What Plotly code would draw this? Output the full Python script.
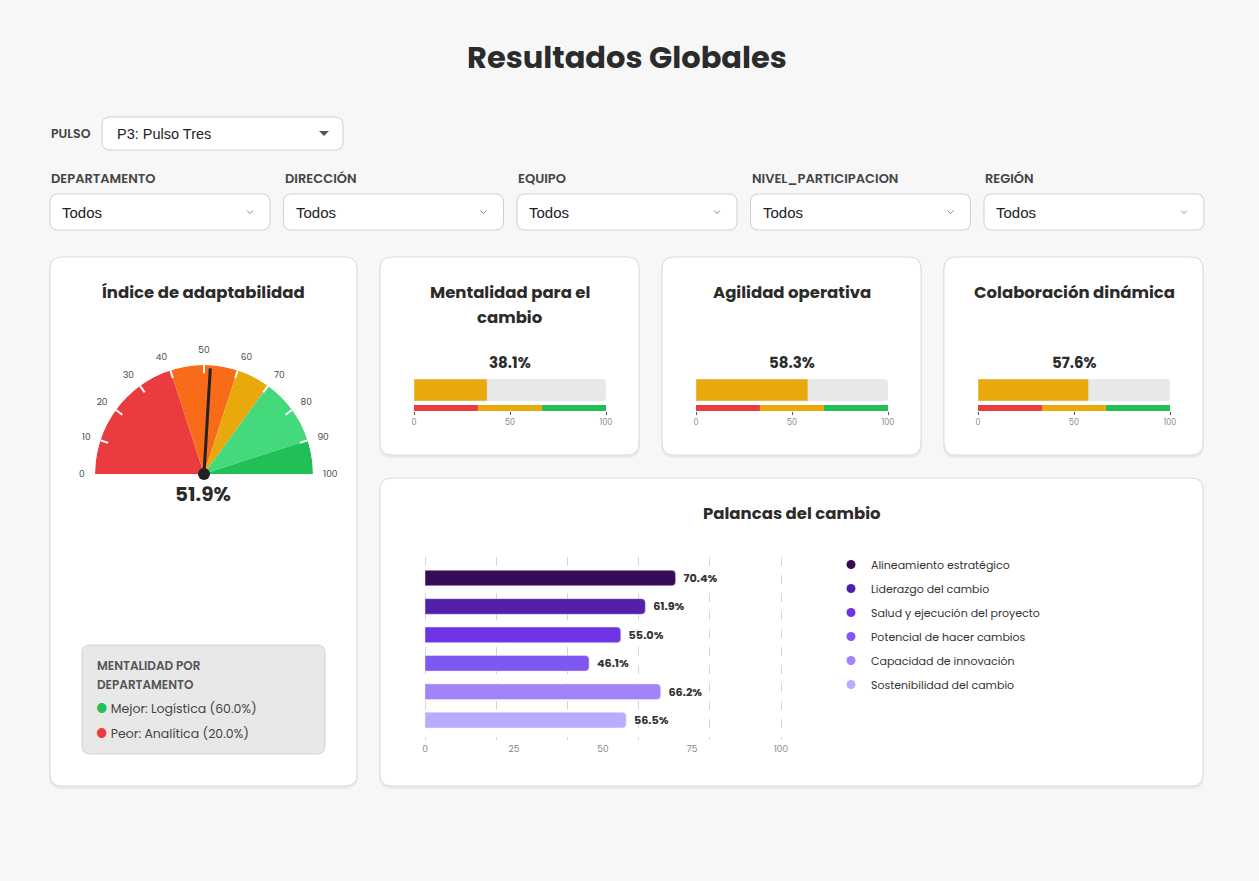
import plotly.graph_objects as go

W, H = 1259, 881

# ---- data ----
gauge_value = 51.9
gauge_limits = [0, 40, 60, 70, 90, 100]
gauge_colors = ['#ea3c3f', '#f86c19', '#e9a90c', '#44d97a', '#22bf57']
gauge_ticks = [0, 10, 20, 30, 40, 50, 60, 70, 80, 90, 100]

mini_titles = [['Mentalidad para el', 'cambio'], ['Agilidad operativa'], ['Colaboración dinámica']]
mini_values = [38.1, 58.3, 57.6]
band_limits = [0, 33.3, 66.7, 100]
band_colors = ['#ea3c3f', '#e9a90c', '#22bf57']

levers = ['Alineamiento estratégico', 'Liderazgo del cambio',
          'Salud y ejecución del proyecto', 'Potencial de hacer cambios',
          'Capacidad de innovación', 'Sostenibilidad del cambio']
lever_values = [70.4, 61.9, 55.0, 46.1, 66.2, 56.5]
lever_colors = ['#360c58', '#5320ab', '#7033e8', '#8157f4', '#a184f8', '#bcabfd']
lever_grid = [0, 20, 40, 60, 80, 100]
lever_ticks = [0, 25, 50, 75, 100]

filters = ['DEPARTAMENTO', 'DIRECCIÓN', 'EQUIPO', 'NIVEL_PARTICIPACION', 'REGIÓN']
best_dept = ('Logística', 60.0)
worst_dept = ('Analítica', 20.0)

FONT = 'Poppins, Inter, sans-serif'
SANS = 'Liberation Sans, Arial, sans-serif'


def px(x):
    return x / W


def py(y):
    return 1 - y / H


def rrect(x0, y0, x1, y1, r):
    p = [('M', x0 + r, y0), ('L', x1 - r, y0), ('Q', x1, y0, x1, y0 + r),
         ('L', x1, y1 - r), ('Q', x1, y1, x1 - r, y1), ('L', x0 + r, y1),
         ('Q', x0, y1, x0, y1 - r), ('L', x0, y0 + r), ('Q', x0, y0, x0 + r, y0)]
    out = ''
    for seg in p:
        cmd, coords = seg[0], seg[1:]
        pts = ['%.5f,%.5f' % (px(coords[i]), py(coords[i + 1])) for i in range(0, len(coords), 2)]
        out += cmd + ' '.join(pts) + ' '
    return out + 'Z'


shapes = []
annotations = []


def card(x0, y0, x1, y1, r=12, fill='white', line='#dcdcdc', shadow=True):
    if shadow:
        shapes.append(dict(type='path', xref='paper', yref='paper', layer='below',
                           path=rrect(x0 - 1, y0, x1 + 1, y1 + 3, r + 1),
                           fillcolor='rgba(0,0,0,0.05)', line=dict(width=0)))
    shapes.append(dict(type='path', xref='paper', yref='paper', layer='below',
                       path=rrect(x0, y0, x1, y1, r), fillcolor=fill,
                       line=dict(color=line, width=1)))


def text(x, y, s, size=12, color='#333', weight='normal', anchor='center', family=FONT):
    annotations.append(dict(x=px(x), y=py(y), xref='paper', yref='paper', text=s,
                            showarrow=False, xanchor=anchor, yanchor='middle',
                            font=dict(family=family, size=size, color=color, weight=weight)))


# ---- header and filters ----
text(627, 57, 'Resultados Globales', size=30.5, color='#2b2b2b', weight='bold')

text(49, 133, 'PULSO', size=12.5, color='#444', weight=600, anchor='left')
card(102, 117, 343, 150, r=8, line='#cfcfcf', shadow=False)
text(115, 134, 'P3: Pulso Tres', size=14.5, color='#222', anchor='left', family=SANS)
shapes.append(dict(type='path', xref='paper', yref='paper',
                   path='M%.5f,%.5f L%.5f,%.5f L%.5f,%.5f Z' % (px(319), py(131), px(329), py(131), px(324), py(136)),
                   fillcolor='#555', line=dict(width=0)))

for i, name in enumerate(filters):
    x0 = 50 + i * 233.5
    text(x0 - 1, 178, name, size=13, color='#444', weight=600, anchor='left')
    card(x0, 194, x0 + 220, 230, r=8, line='#cfcfcf', shadow=False)
    text(x0 + 10, 212, 'Todos', size=15, color='#222', anchor='left', family=SANS)
    cx, cy = x0 + 200, 212
    shapes.append(dict(type='path', xref='paper', yref='paper',
                       path='M%.5f,%.5f L%.5f,%.5f L%.5f,%.5f' % (px(cx - 3), py(cy - 1.5), px(cx), py(cy + 1.5), px(cx + 3), py(cy - 1.5)),
                       line=dict(color='#888', width=1)))

# ---- cards ----
card(50, 257, 357, 786)
mini_x = [380, 662, 944]
for x0 in mini_x:
    card(x0, 257, x0 + 259, 455)
card(380, 478, 1203, 786)

fig = go.Figure()

# ---- gauge ----
text(203, 292, 'Índice de adaptabilidad', size=16.5, color='#2b2b2b', weight='bold')
fig.add_trace(go.Barpolar(
    r=[1] * len(gauge_colors),
    theta=[180 - (a + b) / 2 * 1.8 for a, b in zip(gauge_limits[:-1], gauge_limits[1:])],
    width=[(b - a) * 1.8 for a, b in zip(gauge_limits[:-1], gauge_limits[1:])],
    marker=dict(color=gauge_colors, line=dict(width=0)),
    hoverinfo='skip', showlegend=False, subplot='polar'))
# white tick marks on the rim
fig.add_trace(go.Barpolar(
    r=[0.075] * (len(gauge_ticks) - 2), base=[0.925] * (len(gauge_ticks) - 2),
    theta=[180 - t * 1.8 for t in gauge_ticks[1:-1]], width=[1.1] * (len(gauge_ticks) - 2),
    marker=dict(color='white', line=dict(width=0)),
    hoverinfo='skip', showlegend=False, subplot='polar'))
fig.add_trace(go.Scatterpolar(
    r=[0, 0.97], theta=[180 - gauge_value * 1.8] * 2, mode='lines',
    line=dict(color='#222', width=3), hoverinfo='skip', showlegend=False, subplot='polar'))
fig.add_trace(go.Scatterpolar(
    r=[0], theta=[90], mode='markers', marker=dict(color='#222', size=12),
    hoverinfo='skip', showlegend=False, subplot='polar'))
text(203, 494, '%.1f%%' % gauge_value, size=20, color='#2b2b2b', weight='bold')

# department box
card(82, 645, 325, 754, r=8, fill='#e8e8e8', line='#d2d2d2', shadow=False)
text(95, 665, 'MENTALIDAD POR', size=12, color='#555', weight=600, anchor='left')
text(95, 684, 'DEPARTAMENTO', size=12, color='#555', weight=600, anchor='left')
text(94, 708, '<span style="color:#22bf57">●</span> Mejor: %s (%.1f%%)' % best_dept,
     size=12.5, color='#444', anchor='left')
text(94, 733, '<span style="color:#ea3c3f">●</span> Peor: %s (%.1f%%)' % worst_dept,
     size=12.5, color='#444', anchor='left')

# ---- mini bullet bars ----
for i, (lines, val) in enumerate(zip(mini_titles, mini_values)):
    k = str(i + 2)
    cx = mini_x[i] + 130
    for j, line in enumerate(lines):
        text(cx, 292 + 25 * j, line, size=16.5, color='#2b2b2b', weight='bold')
    text(cx, 362, '%.1f%%' % val, size=15, color='#2b2b2b', weight='bold')
    xa, ya = 'x' + k, 'y' + k
    fig.add_trace(go.Bar(x=[100], y=[1], orientation='h', width=1.22,
                         marker=dict(color='#e8e8e8', cornerradius=4), xaxis=xa, yaxis=ya,
                         hoverinfo='skip', showlegend=False))
    fig.add_trace(go.Bar(x=[val], y=[1], orientation='h', width=1.22,
                         marker=dict(color='#e9a90c', cornerradius=4), xaxis=xa, yaxis=ya,
                         showlegend=False))
    for a, b, c in zip(band_limits[:-1], band_limits[1:], band_colors):
        fig.add_trace(go.Bar(x=[b - a], base=[a], y=[0], orientation='h', width=0.34,
                             marker=dict(color=c, line=dict(width=0)), xaxis=xa, yaxis=ya,
                             hoverinfo='skip', showlegend=False))

# ---- palancas del cambio ----
text(792, 513, 'Palancas del cambio', size=16.5, color='#2b2b2b', weight='bold')
for name, val, col in zip(levers, lever_values, lever_colors):
    fig.add_trace(go.Bar(x=[val], y=[name], orientation='h', width=0.55,
                         marker=dict(color=col, cornerradius=4),
                         text=['  %.1f%%' % val], textposition='outside',
                         textfont=dict(family=FONT, size=11.5, color='#333', weight='bold'),
                         cliponaxis=False, showlegend=False))
for name, col in zip(levers, lever_colors):
    # legend entries (circle symbols), tied to the label axis
    fig.add_trace(go.Scatter(x=[None], y=[None], mode='markers', name=name,
                             legendgroup=name, xaxis='x5', yaxis='y',
                             marker=dict(color=col, size=9, symbol='circle')))

# small padding so plotly keeps the grid lines at 0 and 100
pad = 0.6
unit = (781 - 425) / 100.0

layout = dict(
    width=W, height=H, autosize=False, margin=dict(l=0, r=0, t=0, b=0, autoexpand=False),
    paper_bgcolor='#f7f7f7', plot_bgcolor='rgba(0,0,0,0)',
    barmode='overlay', shapes=shapes, annotations=annotations,
    font=dict(family=FONT, color='#333'),
    legend=dict(x=px(831), y=py(550), xanchor='left', yanchor='top',
                font=dict(family=FONT, size=11, color='#333'),
                tracegroupgap=5, bgcolor='rgba(0,0,0,0)', itemwidth=30),
    polar=dict(domain=dict(x=[px(95), px(313)], y=[py(474), py(365)]),
               sector=[0, 180], hole=0, bgcolor='rgba(0,0,0,0)',
               radialaxis=dict(visible=False, range=[0, 1]),
               angularaxis=dict(rotation=0, direction='counterclockwise',
                                tickmode='array', tickvals=[180 - t * 1.8 for t in gauge_ticks],
                                ticktext=[str(t) for t in gauge_ticks],
                                ticks='outside', ticklen=8, tickcolor='rgba(0,0,0,0)',
                                showgrid=False, showline=False, showticklabels=True,
                                tickfont=dict(family=FONT, size=9, color='#444'))),
    xaxis=dict(domain=[px(425 - pad * unit), px(781 + pad * unit)], range=[-pad, 100 + pad],
               tickvals=lever_grid, showticklabels=False, showgrid=True, gridcolor='#d6d6d6',
               griddash='dash', gridwidth=1, zeroline=False, ticks=''),
    xaxis5=dict(overlaying='x', anchor='y', side='bottom', range=[-pad, 100 + pad],
                tickvals=lever_ticks, showgrid=False, zeroline=False, ticks='',
                ticklabelstandoff=2, tickfont=dict(family=FONT, size=9, color='#888')),
    yaxis=dict(domain=[py(740), py(557)], categoryorder='array', categoryarray=levers,
               range=[5.70, -0.74], showticklabels=False, showgrid=False, zeroline=False),
)
for i in range(3):
    k = str(i + 2)
    x0 = mini_x[i] + 34
    layout['xaxis' + k] = dict(domain=[px(x0), px(x0 + 192)], range=[0, 100], anchor='y' + k,
                               tickvals=[0, 50, 100], showgrid=False, zeroline=False,
                               ticks='outside', ticklen=3, tickcolor='#555', tickwidth=1,
                               tickfont=dict(family=FONT, size=8, color='#888'))
    layout['yaxis' + k] = dict(domain=[py(411), py(379)], range=[-0.167, 1.611], anchor='x' + k,
                               visible=False, fixedrange=True)

fig.update_layout(**layout)
fig.write_html("out.html", config={'displayModeBar': False, 'responsive': False},
               post_script="document.body.style.margin='0';document.body.style.background='#f7f7f7';"
                           "document.documentElement.style.overflow='hidden';")
